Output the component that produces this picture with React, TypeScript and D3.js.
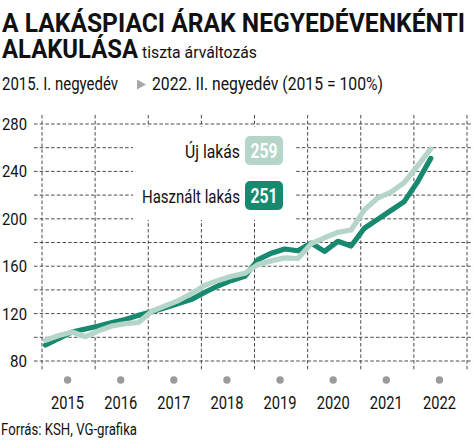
import React from 'react'
import * as d3 from 'd3'

// quarterly house price index, 2015 = 100
const years = [2015, 2016, 2017, 2018, 2019, 2020, 2021, 2022]
const quarterNames = ['I.', 'II.', 'III.', 'IV.']
const ujLakas = [
    97.5, 101.5, 104.5, 100.5, 105.5, 109.5, 111.5, 112.5,
    122, 126.5, 131, 137, 144, 148, 151.5, 154,
    161.5, 164.5, 167, 166.5, 179, 184, 188.5, 190.5,
    207.5, 217.5, 222.5, 230.5, 244.5, 259
]
const hasznaltLakas = [
    93.5, 99, 104.5, 107, 109.5, 112.5, 115, 118.5,
    121.5, 125, 128.5, 132, 138, 143.5, 148, 151.5,
    165.5, 171, 174.5, 173, 179.5, 172.5, 181, 177,
    192, 199.5, 207, 214.5, 231, 251
]
const yTicks = [80, 120, 160, 200, 240, 280]
const yGrid = [80, 100, 120, 140, 160, 180, 200, 220, 240, 260, 280]
const series = [
    { name: 'Használt lakás', values: hasznaltLakas, color: '#17896f', text: '#ffffff' },
    { name: 'Új lakás', values: ujLakas, color: '#b5d5c9', text: '#ffffff' }
]

const quarters = years.flatMap(yr => quarterNames.map(q => `${yr}. ${q}`)).slice(0, ujLakas.length)

const W = 474
const H = 448
const font = "'Liberation Sans Narrow', Roboto, 'DejaVu Sans', sans-serif"
const gridColor = '#4a4a4a'

const x = d3.scaleLinear().domain([2015, 2023]).range([42, 467])
const y = d3.scaleLinear().domain([80, 280]).range([361, 124])
const qx = (i: number) => x(2015 + (i + 0.27) / 4)

const line = d3
    .line<number>()
    .x((d, i) => qx(i))
    .y(d => y(d))

export default function App() {
    const yearEdges = d3.range(2015, 2024)
    return (
        <svg
            width={W}
            height={H}
            viewBox={`0 0 ${W} ${H}`}
            style={{ position: 'absolute', left: 0, top: 0, background: '#fff', fontFamily: font }}
        >
            <rect width={W} height={H} fill="#fff" />

            {/* header */}
            <text x={2} y={31.5} fontSize={26} fontWeight={700} textLength={463} lengthAdjust="spacingAndGlyphs" fill="#111">
                A LAKÁSPIACI ÁRAK NEGYEDÉVENKÉNTI
            </text>
            <text x={2} y={57.5} fontSize={26} fontWeight={700} textLength={136} lengthAdjust="spacingAndGlyphs" fill="#111">
                ALAKULÁSA
            </text>
            <text x={142} y={57.5} fontSize={17} textLength={115} lengthAdjust="spacingAndGlyphs" fill="#111">
                tiszta árváltozás
            </text>
            <text x={2} y={89.5} fontSize={18} textLength={116} lengthAdjust="spacingAndGlyphs" fill="#111">
                2015. I. negyedév
            </text>
            <polygon points="137,79.5 146,84.5 137,89.5" fill="#a8a8a8" />
            <text x={152} y={89.5} fontSize={18} textLength={231} lengthAdjust="spacingAndGlyphs" fill="#111">
                2022. II. negyedév (2015 = 100%)
            </text>

            {/* grid */}
            <g stroke={gridColor} strokeWidth={1} strokeDasharray="3.5,2.2">
                {yGrid.map(v => (
                    <line key={'h' + v} x1={34} x2={473} y1={y(v)} y2={y(v)} />
                ))}
                {yearEdges.map(yr => (
                    <line key={'v' + yr} x1={x(yr)} x2={x(yr)} y1={115} y2={370} />
                ))}
            </g>
            {/* legend backdrop */}
            <rect x={133} y={127} width={161} height={93} fill="#fff" />

            {/* y axis labels */}
            {yTicks.map(v => (
                <text
                    key={v}
                    x={27}
                    y={y(v) + 6}
                    fontSize={17}
                    textAnchor="end"
                    textLength={v < 100 ? 17 : 25}
                    lengthAdjust="spacingAndGlyphs"
                    fill="#111"
                >
                    {v}
                </text>
            ))}

            {/* x axis dots and labels */}
            {years.map(yr => (
                <g key={yr}>
                    <circle cx={x(yr + 0.5) - 1} cy={380} r={3.7} fill="#9b9b9b" />
                    <text
                        x={x(yr + 0.5) - 1}
                        y={408.5}
                        fontSize={18.5}
                        textAnchor="middle"
                        textLength={33}
                        lengthAdjust="spacingAndGlyphs"
                        fill="#111"
                    >
                        {yr}
                    </text>
                </g>
            ))}

            {/* lines */}
            {series.map(s => (
                <path
                    key={s.name}
                    d={line(s.values) || ''}
                    fill="none"
                    stroke={s.color}
                    strokeWidth={5.2}
                    strokeLinejoin="round"
                    strokeLinecap="round"
                >
                    <title>{quarters[quarters.length - 1]}</title>
                </path>
            ))}

            {/* legend */}
            {[series[1], series[0]].map((s, k) => {
                const cy = 150.5 + k * 45
                const last = s.values[s.values.length - 1]
                return (
                    <g key={s.name}>
                        <text
                            x={240}
                            y={cy + 7.5}
                            fontSize={18.5}
                            textAnchor="end"
                            textLength={k === 0 ? 55 : 98}
                            lengthAdjust="spacingAndGlyphs"
                            fill="#111"
                        >
                            {s.name}
                        </text>
                        <rect x={245} y={cy - 14.5} width={38} height={29} rx={5} fill={s.color} />
                        <text
                            x={264}
                            y={cy + 7}
                            fontSize={19.5}
                            fontWeight={700}
                            textAnchor="middle"
                            textLength={27}
                            lengthAdjust="spacingAndGlyphs"
                            fill={s.text}
                        >
                            {Math.round(last)}
                        </text>
                    </g>
                )
            })}

            {/* footer */}
            <text x={1} y={434.5} fontSize={16.5} textLength={136} lengthAdjust="spacingAndGlyphs" fill="#111">
                Forrás: KSH, VG-grafika
            </text>
        </svg>
    )
}
